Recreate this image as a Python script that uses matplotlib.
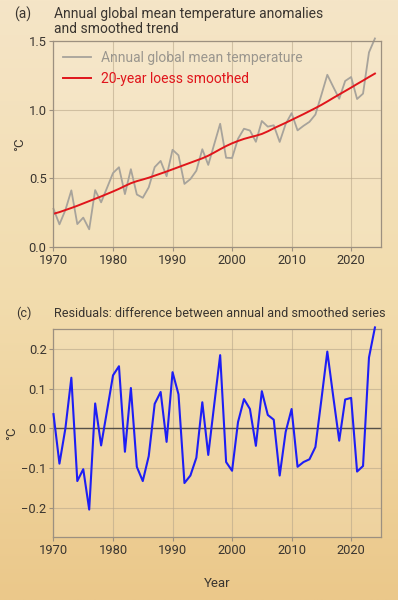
import numpy as np
import matplotlib
matplotlib.use("Agg")
import matplotlib.pyplot as plt
from matplotlib.colors import LinearSegmentedColormap

plt.rcParams['font.family'] = ['Roboto', 'DejaVu Sans']

# data
years = list(range(1970, 2025))

annual = [0.279, 0.166, 0.270, 0.413, 0.168, 0.215, 0.130, 0.415, 0.326, 0.432,
          0.539, 0.581, 0.386, 0.567, 0.383, 0.359, 0.435, 0.582, 0.627, 0.516,
          0.708, 0.668, 0.460, 0.495, 0.556, 0.712, 0.598, 0.748, 0.897, 0.650,
          0.648, 0.788, 0.861, 0.848, 0.766, 0.917, 0.876, 0.886, 0.765, 0.895,
          0.974, 0.849, 0.882, 0.911, 0.964, 1.106, 1.253, 1.165, 1.079, 1.208,
          1.237, 1.077, 1.116, 1.416, 1.517]

smoothed = [0.243, 0.255, 0.270, 0.285, 0.301, 0.318, 0.335, 0.352, 0.369, 0.387,
            0.405, 0.424, 0.445, 0.465, 0.480, 0.492, 0.505, 0.520, 0.535, 0.550,
            0.566, 0.582, 0.598, 0.614, 0.630, 0.646, 0.665, 0.688, 0.712, 0.735,
            0.755, 0.772, 0.787, 0.799, 0.810, 0.823, 0.842, 0.864, 0.884, 0.904,
            0.925, 0.946, 0.967, 0.989, 1.011, 1.034, 1.059, 1.085, 1.110, 1.135,
            1.160, 1.186, 1.211, 1.237, 1.262]

residuals = [0.036, -0.089, 0.000, 0.128, -0.133, -0.103, -0.205, 0.063, -0.043, 0.045,
             0.134, 0.157, -0.059, 0.102, -0.097, -0.133, -0.070, 0.062, 0.092, -0.034,
             0.142, 0.086, -0.138, -0.119, -0.074, 0.066, -0.067, 0.060, 0.185, -0.085,
             -0.107, 0.016, 0.074, 0.049, -0.044, 0.094, 0.034, 0.022, -0.119, -0.009,
             0.049, -0.097, -0.085, -0.078, -0.047, 0.072, 0.194, 0.080, -0.031, 0.073,
             0.077, -0.109, -0.095, 0.179, 0.255]

x_ticks = [1970, 1980, 1990, 2000, 2010, 2020]
top_yticks = [0.0, 0.5, 1.0, 1.5]
bot_yticks = [-0.2, -0.1, 0.0, 0.1, 0.2]

text_col = '#3a3530'
grid_col = '#b8a78a'
frame_col = '#9c9080'

fig = plt.figure(figsize=(3.98, 6.0), dpi=100)

# page background gradient
bg = fig.add_axes([0, 0, 1, 1], zorder=-10)
cmap = LinearSegmentedColormap.from_list('bg', ['#f5e5c7', '#f2dcad', '#ebc88a'])
bg.imshow(np.linspace(0, 1, 256).reshape(-1, 1), aspect='auto', cmap=cmap,
          extent=[0, 1, 0, 1])
bg.axis('off')


def style_axes(ax, yticks, ylim):
    ax.set_facecolor((1, 1, 1, 0.12))
    ax.set_xlim(1970, 2025)
    ax.set_ylim(*ylim)
    ax.set_xticks(x_ticks)
    ax.set_yticks(yticks)
    ax.grid(True, color=grid_col, lw=0.8, alpha=0.6)
    ax.set_axisbelow(True)
    for s in ax.spines.values():
        s.set_color(frame_col)
        s.set_linewidth(0.9)
    ax.tick_params(colors=frame_col, labelcolor=text_col, labelsize=9.3, length=3,
                   width=0.8, pad=2)
    ax.set_ylabel('°C', fontsize=9.5, color=text_col, labelpad=2)


# (a) annual and smoothed
ax1 = fig.add_axes([0.1344, 0.588, 0.8226, 0.344])
style_axes(ax1, top_yticks, (0, 1.5))
ax1.set_yticklabels(['0.0', '0.5', '1.0', '1.5'])
ax1.plot(years, annual, color='#a7a39b', lw=1.3, clip_on=False,
         label='Annual global mean temperature')
ax1.plot(years, smoothed, color='#e0151b', lw=1.4, label='20-year loess smoothed')
leg = ax1.legend(loc='upper left', frameon=False, fontsize=10, handlelength=2.0,
                 handletextpad=0.7, labelspacing=0.55, borderaxespad=0.2,
                 borderpad=0.5)
for txt, c in zip(leg.get_texts(), ['#9a968e', '#e0151b']):
    txt.set_color(c)

fig.text(0.035, 0.976, '(a)', fontsize=10, color=text_col, va='center')
fig.text(0.136, 0.976, 'Annual global mean temperature anomalies',
         fontsize=10, color=text_col, va='center')
fig.text(0.136, 0.951, 'and smoothed trend', fontsize=10, color=text_col, va='center')

# (c) residuals
ax2 = fig.add_axes([0.1344, 0.1045, 0.8226, 0.3465])
style_axes(ax2, bot_yticks, (-0.275, 0.25))
ax2.axhline(0, color='#555048', lw=1.0, zorder=2)
ax2.plot(years, residuals, color='#1e1ef5', lw=1.5, clip_on=False, zorder=3)
ax2.set_xlabel('Year', fontsize=9.5, color=text_col, labelpad=14)

fig.text(0.04, 0.478, '(c)', fontsize=9, color=text_col, va='center')
fig.text(0.136, 0.478, 'Residuals: difference between annual and smoothed series',
         fontsize=9.1, color=text_col, va='center')

fig.savefig('out.png', dpi=100)
